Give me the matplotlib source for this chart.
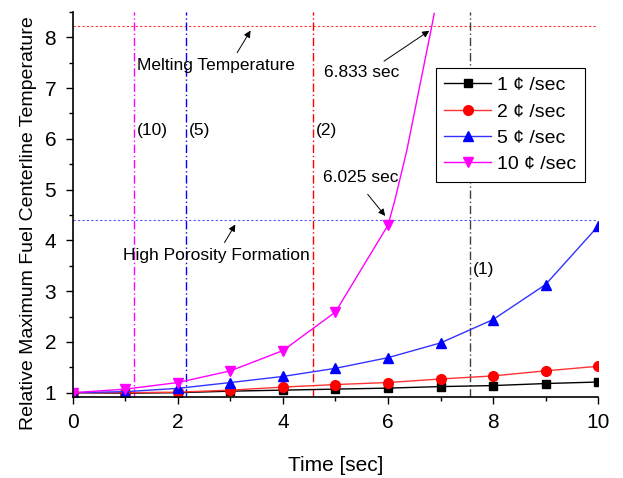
import matplotlib
matplotlib.use('Agg')
import matplotlib.pyplot as plt
from matplotlib.ticker import MultipleLocator

plt.rcParams['font.family'] = ['Liberation Sans', 'DejaVu Sans']

t = [0, 1, 2, 3, 4, 5, 6, 7, 8, 9, 10]
rate1 = [1.0, 0.99, 1.0, 1.03, 1.05, 1.07, 1.09, 1.12, 1.14, 1.18, 1.21]
rate2 = [1.0, 1.0, 1.01, 1.05, 1.11, 1.16, 1.2, 1.27, 1.33, 1.43, 1.52]
rate5 = [1.0, 1.02, 1.085, 1.2, 1.32, 1.48, 1.69, 1.98, 2.44, 3.13, 4.28]
t10 = [0, 1, 2, 3, 4, 5, 6]
rate10 = [1.0, 1.07, 1.2, 1.43, 1.83, 2.59, 4.3]
# continuation of the 10 c/sec curve up to melting
t10_tail = [6, 6.13, 6.36, 6.55, 6.74, 6.83, 6.88]
rate10_tail = [4.3, 4.79, 5.78, 6.76, 7.74, 8.2, 8.47]

melting = 8.22
porosity = 4.40
crit_times = [1.17, 2.15, 4.57, 7.57]
crit_labels = ['(10)', '(5)', '(2)', '(1)']
crit_colors = ['#ff00ff', '#0000ff', '#ff0000', '#404040']
label_y = [6.17, 6.17, 6.17, 3.42]

fig = plt.figure(figsize=(6.23, 4.78), dpi=100)
ax = fig.add_axes([0.117, 0.17, 0.843, 0.805])

ax.axhline(melting, color='#ff3333', ls=(0, (2, 2)), lw=0.8)
ax.axhline(porosity, color='#5555ff', ls=(0, (2, 2)), lw=0.8)
for x, c in zip(crit_times, crit_colors):
    ax.axvline(x, color=c, ls=(0, (6, 2, 1, 2)), lw=1.0)

ax.plot(t, rate1, color='black', lw=1, marker='s', ms=6, label='1 \u00a2 /sec')
ax.plot(t, rate2, color='#ff3333', lw=1, marker='o', ms=7, mfc='red', mec='red', label='2 \u00a2 /sec')
ax.plot(t, rate5, color='#3333ff', lw=1, marker='^', ms=7, mfc='blue', mec='blue', label='5 \u00a2 /sec')
ax.plot(t10, rate10, color='#ff00ff', lw=1, marker='v', ms=7, label='10 \u00a2 /sec')
ax.plot(t10_tail, rate10_tail, color='#ff00ff', lw=1)

fs = 12.5
arrow = dict(arrowstyle='-|>', color='black', lw=0.7, mutation_scale=10)
ax.text(1.22, 7.45, 'Melting Temperature', fontsize=fs, va='center')
ax.annotate('', xy=(3.41, 8.18), xytext=(3.1, 7.65), arrowprops=arrow)
ax.text(5.49, 7.31, '6.833 sec', fontsize=fs, ha='center', va='center')
ax.annotate('', xy=(6.83, 8.16), xytext=(5.88, 7.5), arrowprops=arrow)
ax.text(5.49, 5.23, '6.025 sec', fontsize=fs, ha='center', va='center')
ax.annotate('', xy=(5.98, 4.44), xytext=(5.58, 4.95), arrowprops=arrow)
ax.text(0.95, 3.71, 'High Porosity Formation', fontsize=fs, va='center')
ax.annotate('', xy=(3.12, 4.36), xytext=(2.86, 3.91), arrowprops=arrow)

for x, lab, y in zip(crit_times, crit_labels, label_y):
    ax.text(x + 0.05, y, lab, fontsize=fs, va='center')

ax.set_xlim(0, 10)
ax.set_ylim(0.92, 8.5)
ax.xaxis.set_major_locator(MultipleLocator(2))
ax.xaxis.set_minor_locator(MultipleLocator(1))
ax.yaxis.set_major_locator(MultipleLocator(1))
ax.yaxis.set_minor_locator(MultipleLocator(0.5))
ax.tick_params(which='major', direction='out', length=5, width=1, labelsize=15, pad=7)
ax.tick_params(axis='y', which='major', pad=7)
ax.tick_params(which='minor', direction='out', length=3, width=1)
ax.spines['top'].set_visible(False)
ax.spines['right'].set_visible(False)
ax.spines['left'].set_linewidth(1.2)
ax.spines['bottom'].set_linewidth(1.2)

ax.set_xlabel('Time [sec]', fontsize=15, labelpad=17)
ax.set_ylabel('Relative Maximum Fuel Centerline Temperature', fontsize=14)
ax.yaxis.set_label_coords(-0.068, 0.45)

leg = ax.legend(loc='upper right', bbox_to_anchor=(0.993, 0.88), fontsize=14,
                fancybox=False, edgecolor='black', framealpha=1,
                handlelength=2.4, borderpad=0.45, labelspacing=0.45, handletextpad=0.3)
leg.get_frame().set_linewidth(0.8)

fig.savefig('out.png', dpi=100)
